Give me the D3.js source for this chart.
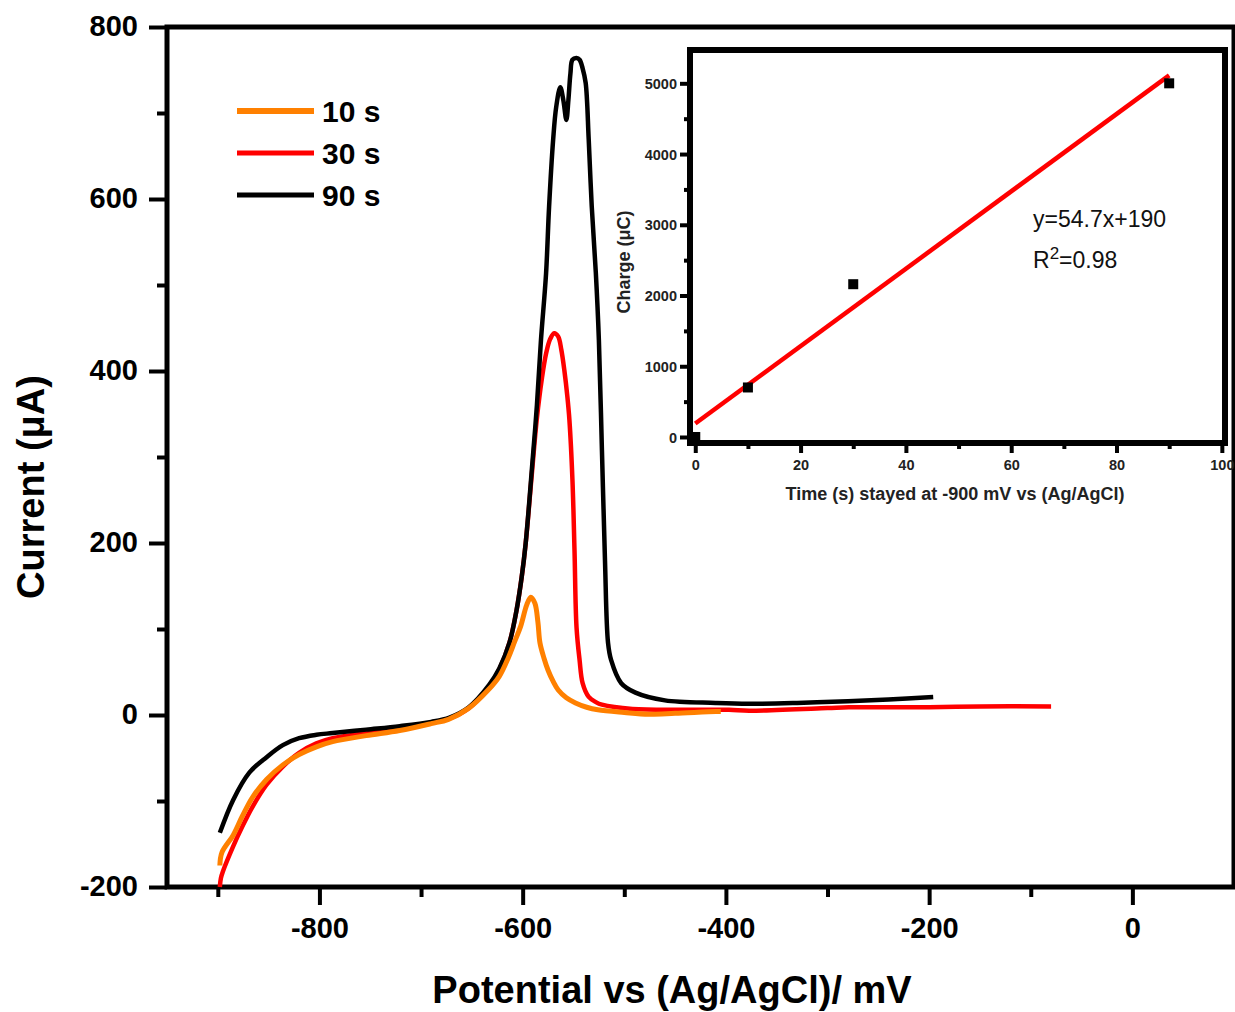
<!DOCTYPE html>
<html>
<head>
<meta charset="utf-8">
<script src="https://cdn.jsdelivr.net/npm/d3@7"></script>
<style>
  html, body { margin: 0; padding: 0; background: #fff; }
  svg { display: block; font-family: "Liberation Sans", Arial, sans-serif; }
</style>
</head>
<body>
<svg id="chart" width="1235" height="1012"></svg>
<script>
// ---------------- DATA ----------------
// Main chart: potential (mV) vs current (µA)
const series10s = [
  [-898,-175],[-896,-160],[-885,-140],[-876,-118],[-866,-96],[-852,-75],[-836,-58],
  [-820,-46],[-803,-37],[-787,-31],[-754,-24],[-721,-18],[-690,-10],[-673,-5],
  [-653,8],[-634,29],[-623,45],[-614,67],[-608,85],[-602,103],[-596,128],
  [-592,137],[-588,130],[-585,108],[-583,84],[-579,66],[-575,52],[-570,39],
  [-565,29],[-557,20],[-548,14],[-537,9],[-526,6],[-500,3],[-476,1],[-450,2],
  [-410,4],[-405,4]
];
const series30s = [
  [-898,-200],[-897,-190],[-895,-182],[-885,-153],[-876,-130],[-866,-107],[-852,-81],
  [-836,-60],[-820,-44],[-803,-33],[-787,-27],[-754,-21],[-721,-16],[-690,-9],
  [-672,-4],[-653,8],[-633,33],[-623,53],[-613,84],[-606,122],[-601,160],
  [-597,200],[-591,280],[-586,345],[-581,392],[-577,420],[-573,437],[-569,444],
  [-565,440],[-562,425],[-559,401],[-556,370],[-554,343],[-551,273],[-549,192],
  [-547,102],[-544,64],[-541,37],[-535,21],[-528,15],[-522,12],[-492,7],
  [-443,6],[-397,6],[-377,5],[-300,8],[-279,9],[-200,9],[-150,10],[-80,10]
];
const series90s = [
  [-898,-137],[-885,-99],[-869,-67],[-852,-49],[-836,-35],[-820,-27],[-803,-23],
  [-787,-21],[-754,-17],[-721,-13],[-690,-8],[-672,-3],[-653,9],[-633,35],
  [-623,54],[-613,84],[-606,122],[-601,160],[-597,200],[-591,285],[-586,360],
  [-582,436],[-577,513],[-574,591],[-570,669],[-567,707],[-563,730],[-560,715],
  [-557,692],[-555,715],[-553,746],[-551,762],[-547,764],[-544,762],[-541,752],
  [-538,735],[-535,669],[-532,591],[-528,514],[-525,436],[-522,308],[-519,180],
  [-516,84],[-513,64],[-503,37],[-489,26],[-460,17],[-410,14],[-378,13],
  [-330,14],[-280,16],[-240,18],[-196,21]
];
const seriesLabels = ["10 s", "30 s", "90 s"];
const seriesColors = ["#ff8000", "#ff0000", "#000000"];

const xTicksMajor = [-800, -600, -400, -200, 0];
const xTicksMinor = [-900, -700, -500, -300, -100];
const yTicksMajor = [-200, 0, 200, 400, 600, 800];
const yTicksMinor = [-100, 100, 300, 500, 700];

// Inset: time (s) vs charge (µC)
const insetTime = [0, 10, 30, 90];
const insetCharge = [0, 700, 2160, 5000];
const fitSlope = 54.7, fitIntercept = 190;
const fitRange = [0, 90];
const insetXTicksMajor = [0, 20, 40, 60, 80, 100];
const insetXTicksMinor = [10, 30, 50, 70, 90];
const insetYTicksMajor = [0, 1000, 2000, 3000, 4000, 5000];
const insetYTicksMinor = [500, 1500, 2500, 3500, 4500];

// ---------------- DRAW ----------------
const svg = d3.select("#chart");
const FONT = '"Liberation Sans", Arial, sans-serif';
const fmt = d => String(d);

const x = d3.scaleLinear().domain([-950, 100]).range([167, 1234]);
const y = d3.scaleLinear().domain([-200, 800]).range([887, 27]);

// Main axes
function styleAxis(g) {
  g.select(".domain").remove();
  g.selectAll(".tick line").attr("stroke", "#000").attr("stroke-width", 4);
}
const gxMinor = svg.append("g").attr("transform", `translate(0,${y(-200)})`)
  .call(d3.axisBottom(x).tickValues(xTicksMinor).tickSize(10).tickFormat(""));
styleAxis(gxMinor);
const gx = svg.append("g").attr("transform", `translate(0,${y(-200)})`)
  .call(d3.axisBottom(x).tickValues(xTicksMajor).tickSize(18).tickFormat(fmt));
styleAxis(gx);
gx.selectAll("text").attr("y", 51).attr("dy", 0)
  .attr("font-size", 29).attr("font-weight", "bold").attr("font-family", FONT).attr("fill", "#000");

const gyMinor = svg.append("g").attr("transform", `translate(${x(-950)},0)`)
  .call(d3.axisLeft(y).tickValues(yTicksMinor).tickSize(10).tickFormat(""));
styleAxis(gyMinor);
const gy = svg.append("g").attr("transform", `translate(${x(-950)},0)`)
  .call(d3.axisLeft(y).tickValues(yTicksMajor).tickSize(18).tickPadding(11).tickFormat(fmt));
styleAxis(gy);
gy.selectAll("text").attr("dy", "0.3em")
  .attr("font-size", 29).attr("font-weight", "bold").attr("font-family", FONT).attr("fill", "#000");

// Frame
svg.append("rect")
  .attr("x", x(-950)).attr("y", y(800))
  .attr("width", x(100) - x(-950)).attr("height", y(-200) - y(800))
  .attr("fill", "none").attr("stroke", "#000").attr("stroke-width", 5);

// Curves
const line = d3.line().x(d => x(d[0])).y(d => y(d[1])).curve(d3.curveCatmullRom.alpha(0.5));
const allSeries = [series10s, series30s, series90s];
const drawOrder = [1, 2, 0];
drawOrder.forEach(i => {
  svg.append("path").datum(allSeries[i])
    .attr("d", line).attr("fill", "none")
    .attr("stroke", seriesColors[i]).attr("stroke-width", i === 0 ? 5 : 4.5)
    .attr("stroke-linejoin", "round").attr("stroke-linecap", "butt");
});

// Axis titles
svg.append("text")
  .attr("x", 672).attr("y", 1003).attr("text-anchor", "middle")
  .attr("font-size", 38).attr("font-weight", "bold").attr("font-family", FONT)
  .text("Potential vs (Ag/AgCl)/ mV");
svg.append("text")
  .attr("transform", "translate(44,487) rotate(-90)").attr("text-anchor", "middle")
  .attr("font-size", 38).attr("font-weight", "bold").attr("font-family", FONT)
  .text("Current (\u03bcA)");

// Legend
const legend = svg.append("g");
seriesLabels.forEach((lab, i) => {
  const ly = 111 + i * 42;
  legend.append("line").attr("x1", 237).attr("x2", 314).attr("y1", ly).attr("y2", ly)
    .attr("stroke", seriesColors[i]).attr("stroke-width", i === 0 ? 6 : 5);
  legend.append("text").attr("x", 322).attr("y", ly + 11)
    .attr("font-size", 30).attr("font-weight", "bold").attr("font-family", FONT)
    .text(lab);
});

// ---------------- INSET ----------------
const xi = d3.scaleLinear().domain([-1, 100.6]).range([690, 1225]);
const yi = d3.scaleLinear().domain([-85, 5471]).range([443, 50]);

svg.append("rect")
  .attr("x", xi(-1)).attr("y", yi(5471))
  .attr("width", xi(100.6) - xi(-1)).attr("height", yi(-85) - yi(5471))
  .attr("fill", "#fff").attr("stroke", "none");

function styleInsetAxis(g) {
  g.select(".domain").remove();
  g.selectAll(".tick line").attr("stroke", "#000").attr("stroke-width", 4);
  g.selectAll("text").attr("font-size", 14.5).attr("font-weight", "bold")
    .attr("font-family", FONT).attr("fill", "#222");
}
const gxiMinor = svg.append("g").attr("transform", `translate(0,${yi(-85)})`)
  .call(d3.axisBottom(xi).tickValues(insetXTicksMinor).tickSize(6).tickFormat(""));
styleInsetAxis(gxiMinor);
const gxi = svg.append("g").attr("transform", `translate(0,${yi(-85)})`)
  .call(d3.axisBottom(xi).tickValues(insetXTicksMajor).tickSize(10).tickFormat(fmt));
styleInsetAxis(gxi);
gxi.selectAll("text").attr("y", 27).attr("dy", 0);

const gyiMinor = svg.append("g").attr("transform", `translate(${xi(-1)},0)`)
  .call(d3.axisLeft(yi).tickValues(insetYTicksMinor).tickSize(6).tickFormat(""));
styleInsetAxis(gyiMinor);
const gyi = svg.append("g").attr("transform", `translate(${xi(-1)},0)`)
  .call(d3.axisLeft(yi).tickValues(insetYTicksMajor).tickSize(10).tickPadding(3).tickFormat(fmt));
styleInsetAxis(gyi);
gyi.selectAll("text").attr("dy", "0.35em");

// Inset frame
svg.append("rect")
  .attr("x", xi(-1)).attr("y", yi(5471))
  .attr("width", xi(100.6) - xi(-1)).attr("height", yi(-85) - yi(5471))
  .attr("fill", "none").attr("stroke", "#000").attr("stroke-width", 6);

// Fit line
const fitData = fitRange.map(t => [t, fitSlope * t + fitIntercept]);
svg.append("path").datum(fitData)
  .attr("d", d3.line().x(d => xi(d[0])).y(d => yi(d[1])))
  .attr("stroke", "#ff0000").attr("stroke-width", 4.5).attr("fill", "none");

// Points
svg.append("g").selectAll("rect").data(insetTime.map((t, i) => [t, insetCharge[i]]))
  .join("rect")
  .attr("x", d => xi(d[0]) - 5).attr("y", d => yi(d[1]) - 5)
  .attr("width", 10).attr("height", 10).attr("fill", "#000");

// Inset titles
svg.append("text")
  .attr("x", 955).attr("y", 500).attr("text-anchor", "middle")
  .attr("font-size", 18).attr("font-weight", "bold").attr("font-family", FONT).attr("fill", "#222")
  .text("Time (s) stayed at -900 mV vs (Ag/AgCl)");
svg.append("text")
  .attr("transform", "translate(630,262) rotate(-90)").attr("text-anchor", "middle")
  .attr("font-size", 18).attr("font-weight", "bold").attr("font-family", FONT).attr("fill", "#222")
  .text("Charge (\u03bcC)");

// Equation annotation
svg.append("text")
  .attr("x", 1033).attr("y", 227)
  .attr("font-size", 23).attr("font-family", FONT).attr("fill", "#111")
  .text(`y=${fitSlope}x+${fitIntercept}`);
const r2 = svg.append("text")
  .attr("x", 1033).attr("y", 268)
  .attr("font-size", 23).attr("font-family", FONT).attr("fill", "#111");
r2.append("tspan").text("R");
r2.append("tspan").attr("dy", -9).attr("font-size", 17).text("2");
r2.append("tspan").attr("dy", 9).text("=0.98");
</script>
</body>
</html>
